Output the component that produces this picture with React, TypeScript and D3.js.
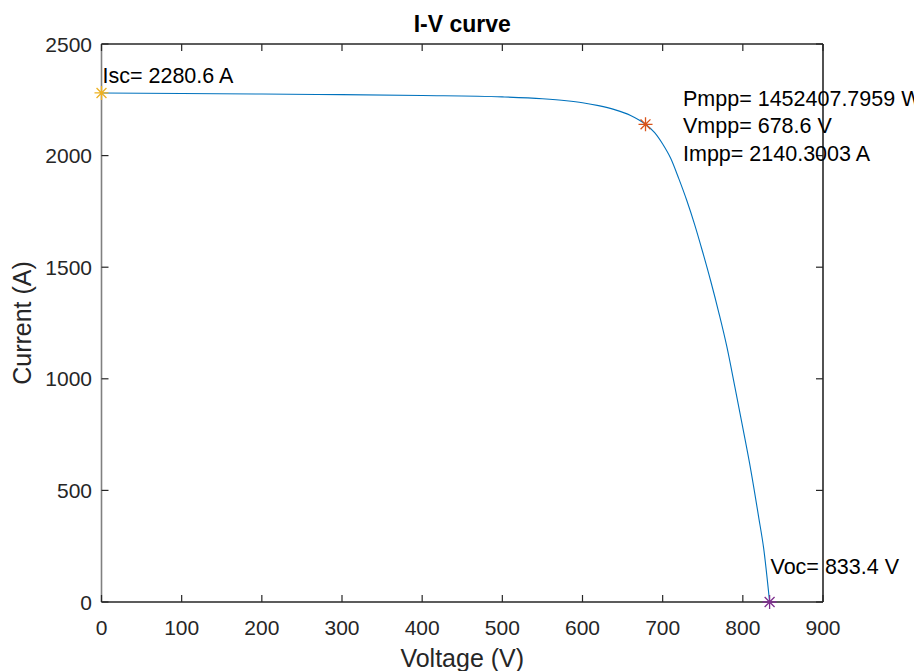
import React from "react";
import * as d3 from "d3";

// I-V characteristic of the PV array (voltage in V, current in A)
const voltage = [0, 100, 200, 300, 400, 500, 550, 580, 600, 620, 640, 660, 678.6, 690, 700, 710, 720, 730, 740, 750, 760, 770, 780, 790, 800, 810, 820, 826, 833.4];
const current = [2280.6, 2278, 2276, 2273, 2269, 2263, 2255, 2246, 2237, 2224, 2206, 2180, 2140.3, 2103, 2052, 1988, 1898, 1800, 1690, 1567, 1437, 1297, 1145, 965, 780, 590, 375, 240, 0];

const xTicks = [0, 100, 200, 300, 400, 500, 600, 700, 800, 900];
const yTicks = [0, 500, 1000, 1500, 2000, 2500];

// Key operating points
const isc = 2280.6;
const voc = 833.4;
const vmpp = 678.6;
const impp = 2140.3003;
const pmpp = 1452407.7959;

const W = 914;
const H = 671;
const left = 101.5;
const right = 823;
const top = 44;
const bottom = 602;

const font = "Arial, 'Liberation Sans', Helvetica, sans-serif";
const axisColor = "#262626";

function Asterisk({ cx, cy, r, color }: { cx: number; cy: number; r: number; color: string }) {
  const d = [0, 45, 90, 135]
    .map((a) => {
      const t = (a * Math.PI) / 180;
      const dx = Math.cos(t) * r;
      const dy = Math.sin(t) * r;
      return `M${cx - dx},${cy - dy}L${cx + dx},${cy + dy}`;
    })
    .join("");
  return <path d={d} stroke={color} strokeWidth={1.3} fill="none" />;
}

export default function App() {
  const x = d3.scaleLinear().domain([0, 900]).range([left, right]);
  const y = d3.scaleLinear().domain([0, 2500]).range([bottom, top]);

  const pts = voltage.map((v, i) => [v, current[i]] as [number, number]);
  const line = d3
    .line<[number, number]>()
    .x((d) => x(d[0]))
    .y((d) => y(d[1]))
    .curve(d3.curveMonotoneX);

  const tickLen = 7;
  const tickFont = 21;
  const noteFont = 21.5;

  return (
    <svg
      width={W}
      height={H}
      style={{ position: "absolute", left: 0, top: 0, display: "block", background: "#fff" }}
      fontFamily={font}
    >
      <rect x={0} y={0} width={W} height={H} fill="#fff" />

      {/* title */}
      <text x={(left + right) / 2} y={32} textAnchor="middle" fontSize={23} fontWeight="bold" fill="#000">
        I-V curve
      </text>

      {/* curve */}
      <path d={line(pts) ?? ""} fill="none" stroke="#0072BD" strokeWidth={1.1} />

      {/* frame */}
      <line x1={left} x2={right} y1={top} y2={top} stroke={axisColor} strokeWidth={1.6} />
      <line x1={left} x2={right} y1={bottom} y2={bottom} stroke={axisColor} strokeWidth={1.6} />
      <line x1={right} x2={right} y1={top} y2={bottom} stroke={axisColor} strokeWidth={1.6} />
      <line x1={left} x2={left} y1={top} y2={bottom} stroke="#808080" strokeWidth={1.6} />

      {/* x ticks */}
      {xTicks.map((t) => (
        <g key={"x" + t}>
          <line x1={x(t)} x2={x(t)} y1={bottom} y2={bottom - tickLen} stroke={axisColor} strokeWidth={1.2} />
          <line x1={x(t)} x2={x(t)} y1={top} y2={top + tickLen} stroke={axisColor} strokeWidth={1.2} />
          <text x={x(t)} y={635} textAnchor="middle" fontSize={tickFont} fill={axisColor}>
            {t}
          </text>
        </g>
      ))}

      {/* y ticks */}
      {yTicks.map((t) => (
        <g key={"y" + t}>
          <line x1={left} x2={left + tickLen} y1={y(t)} y2={y(t)} stroke={axisColor} strokeWidth={1.2} />
          <line x1={right} x2={right - tickLen} y1={y(t)} y2={y(t)} stroke={axisColor} strokeWidth={1.2} />
          <text x={92} y={y(t) + 7.5} textAnchor="end" fontSize={tickFont} fill={axisColor}>
            {t}
          </text>
        </g>
      ))}

      {/* axis labels */}
      <text x={(left + right) / 2} y={667} textAnchor="middle" fontSize={25} fill={axisColor}>
        Voltage (V)
      </text>
      <text
        transform={`translate(31,${(top + bottom) / 2}) rotate(-90)`}
        textAnchor="middle"
        fontSize={25}
        fill={axisColor}
      >
        Current (A)
      </text>

      {/* operating point markers */}
      <Asterisk cx={x(0)} cy={y(isc)} r={7} color="#EDB120" />
      <Asterisk cx={x(vmpp)} cy={y(impp)} r={7} color="#D95319" />
      <Asterisk cx={x(voc)} cy={y(0)} r={7} color="#7E2F8E" />

      {/* annotations */}
      <text x={x(0) + 1} y={82.5} fontSize={noteFont} fill="#000">
        {`Isc= ${isc.toFixed(1)} A`}
      </text>
      <text x={683} y={105.5} fontSize={noteFont} fill="#000">
        {`Pmpp= ${pmpp.toFixed(4)} W`}
      </text>
      <text x={683} y={133.3} fontSize={noteFont} fill="#000">
        {`Vmpp= ${vmpp.toFixed(1)} V`}
      </text>
      <text x={683} y={161} fontSize={noteFont} fill="#000">
        {`Impp= ${impp.toFixed(4)} A`}
      </text>
      <text x={770.5} y={574} fontSize={noteFont} fill="#000">
        {`Voc= ${voc.toFixed(1)} V`}
      </text>
    </svg>
  );
}
